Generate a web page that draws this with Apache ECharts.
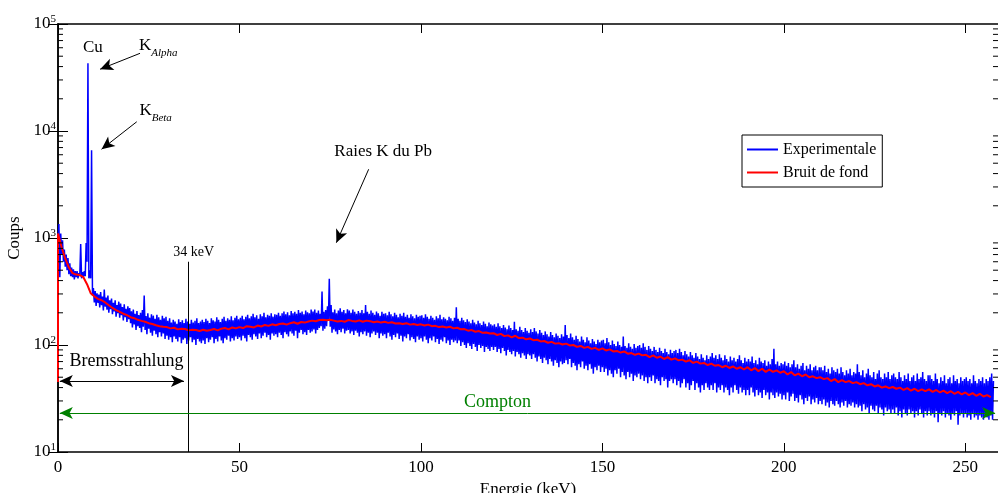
<!DOCTYPE html>
<html><head><meta charset="utf-8">
<script src="https://cdn.jsdelivr.net/npm/echarts@6/dist/echarts.min.js"></script>
<style>html,body{margin:0;padding:0;background:#fff}#c{width:998px;height:493px}</style>
</head><body><div id="c"></div><script>
const FONT = 'Liberation Serif';

// Experimental spectrum: lowest and highest counts read in each 0.5 keV bin (bin i starts at i*0.5 keV)
const expStep = 0.5;
const expLow = [
 1000, 430, 700, 600, 540, 500, 460, 440, 430, 410, 430, 420, 440, 420, 430, 440, 600, 420, 420, 290,
 250, 232, 248, 224, 236, 210, 228, 214, 200, 216, 194, 206, 184, 198, 180, 190, 170, 182, 164, 174,
 160, 146, 156, 138, 150, 144, 132, 148, 138, 126, 142, 130, 122, 136, 126, 118, 132, 120, 128, 114,
 122, 112, 118, 106, 120, 114, 108, 118, 104, 112, 116, 102, 110, 118, 106, 112, 100, 114, 108, 104,
 110, 102, 116, 106, 112, 118, 104, 114, 108, 120, 110, 104, 116, 112, 122, 108, 116, 110, 120, 114,
 118, 110, 122, 116, 108, 124, 118, 112, 126, 120, 114, 128, 116, 122, 130, 118, 124, 112, 128, 122,
 126, 118, 130, 124, 116, 132, 126, 120, 134, 128, 122, 136, 116, 130, 138, 126, 132, 124, 138, 130,
 134, 140, 128, 138, 144, 150, 136, 142, 150, 168, 148, 130, 140, 134, 126, 138, 132, 142, 128, 136,
 138, 128, 134, 124, 136, 130, 120, 132, 126, 134, 122, 130, 118, 128, 134, 124, 130, 116, 128, 122,
 126, 116, 130, 120, 112, 124, 118, 128, 114, 122, 108, 120, 116, 126, 110, 118, 114, 106, 120, 112,
 116, 108, 120, 112, 104, 116, 110, 120, 106, 114, 102, 112, 108, 118, 104, 110, 100, 112, 106, 110,
 104, 110, 98, 106, 100, 94, 104, 98, 92, 102, 96, 88, 100, 94, 98, 86, 96, 92, 88, 96,
 90, 96, 86, 92, 84, 94, 88, 80, 90, 86, 82, 88, 78, 86, 82, 76, 84, 80, 74, 82,
 80, 74, 82, 76, 70, 78, 74, 68, 76, 72, 66, 74, 70, 64, 72, 68, 62, 70, 66, 68,
 72, 66, 74, 62, 68, 64, 58, 66, 62, 70, 60, 64, 58, 66, 60, 54, 62, 58, 64, 56,
 62, 56, 60, 52, 58, 54, 50, 58, 54, 60, 50, 56, 52, 48, 56, 50, 54, 46, 52, 50,
 54, 48, 52, 46, 50, 44, 50, 46, 52, 44, 48, 46, 42, 50, 46, 48, 40, 46, 48, 44,
 48, 42, 46, 40, 44, 48, 40, 44, 38, 42, 46, 38, 44, 40, 36, 42, 38, 44, 40, 38,
 42, 38, 44, 36, 40, 38, 42, 36, 40, 38, 34, 40, 36, 42, 38, 35, 40, 36, 38, 34,
 38, 34, 40, 36, 33, 38, 34, 36, 32, 38, 34, 36, 31, 36, 34, 32, 36, 33, 35, 31,
 34, 31, 36, 30, 33, 35, 30, 32, 29, 34, 31, 28, 32, 30, 33, 28, 31, 29, 32, 28,
 30, 28, 31, 27, 29, 26, 30, 28, 27, 30, 28, 26, 29, 27, 30, 26, 28, 27, 29, 26,
 28, 26, 27, 24, 28, 25, 26, 23, 27, 25, 24, 27, 23, 26, 25, 22, 26, 24, 25, 23,
 25, 23, 26, 22, 24, 21, 25, 23, 22, 25, 23, 24, 21, 24, 22, 25, 23, 21, 24, 22,
 24, 22, 23, 21, 24, 19, 23, 22, 24, 21, 23, 22, 20, 23, 22, 24, 18, 22, 23, 21,
 23, 21, 22, 20, 23, 21, 22, 20, 22, 21, 20, 22, 21, 20, 22, 20
];
const expHigh = [
 1350, 1100, 950, 780, 700, 650, 580, 530, 510, 490, 490, 470, 880, 480, 490, 900, 43000, 500, 6600, 340,
 320, 304, 296, 312, 284, 330, 278, 290, 262, 272, 248, 262, 236, 254, 244, 226, 240, 218, 230, 222,
 206, 214, 196, 208, 190, 200, 212, 290, 186, 198, 180, 194, 188, 176, 192, 182, 172, 188, 178, 184,
 168, 178, 162, 172, 166, 158, 174, 164, 170, 160, 176, 166, 158, 172, 162, 168, 178, 160, 166, 172,
 164, 176, 168, 160, 178, 170, 166, 182, 172, 164, 176, 184, 168, 178, 172, 186, 170, 180, 188, 174,
 180, 188, 174, 184, 192, 178, 186, 196, 182, 190, 176, 194, 186, 200, 182, 192, 188, 198, 184, 194,
 192, 200, 188, 198, 206, 194, 202, 190, 208, 198, 204, 196, 212, 200, 206, 194, 210, 202, 198, 214,
 206, 214, 200, 210, 196, 316, 204, 212, 230, 415, 236, 202, 214, 198, 210, 220, 204, 212, 198, 216,
 210, 200, 214, 204, 196, 208, 200, 212, 198, 237, 204, 196, 210, 200, 192, 206, 198, 188, 204, 196,
 198, 190, 204, 194, 186, 200, 192, 182, 196, 188, 200, 184, 192, 180, 194, 186, 178, 192, 184, 188,
 190, 180, 194, 184, 176, 188, 180, 172, 186, 178, 192, 174, 182, 176, 170, 184, 178, 168, 180, 225,
 176, 168, 180, 170, 164, 174, 166, 160, 172, 162, 156, 168, 160, 154, 166, 158, 150, 162, 156, 152,
 156, 148, 160, 150, 144, 154, 146, 140, 152, 144, 138, 165, 140, 136, 148, 138, 132, 144, 136, 130,
 140, 132, 144, 134, 128, 138, 130, 124, 134, 126, 120, 132, 124, 118, 128, 122, 116, 126, 120, 154,
 124, 116, 128, 118, 112, 122, 114, 108, 120, 112, 106, 118, 110, 104, 114, 108, 102, 112, 106, 110,
 112, 104, 116, 106, 100, 110, 102, 98, 108, 100, 96, 120, 98, 94, 104, 96, 92, 102, 94, 98,
 100, 94, 104, 96, 90, 98, 92, 88, 96, 90, 86, 94, 88, 84, 92, 86, 82, 90, 84, 88,
 90, 84, 92, 86, 80, 88, 82, 78, 86, 80, 76, 84, 78, 74, 82, 76, 72, 80, 74, 78,
 84, 76, 80, 74, 82, 76, 72, 80, 74, 70, 78, 72, 76, 70, 74, 80, 72, 68, 76, 70,
 74, 70, 78, 68, 72, 66, 76, 70, 68, 72, 64, 70, 66, 74, 92, 66, 70, 64, 68, 66,
 70, 64, 68, 62, 66, 72, 62, 66, 60, 64, 68, 58, 64, 60, 66, 58, 62, 64, 58, 62,
 62, 58, 64, 56, 60, 54, 62, 58, 56, 60, 54, 62, 56, 52, 58, 54, 60, 52, 56, 54,
 66, 56, 52, 58, 50, 54, 60, 52, 50, 56, 48, 54, 58, 50, 48, 54, 50, 56, 48, 52,
 54, 50, 48, 56, 50, 46, 52, 48, 54, 46, 50, 52, 46, 54, 48, 50, 56, 48, 46, 52,
 52, 48, 46, 54, 48, 44, 50, 46, 52, 44, 48, 50, 44, 52, 46, 48, 44, 50, 46, 48,
 50, 46, 48, 44, 52, 46, 44, 48, 46, 50, 44, 48, 46, 50, 54, 46
];

// Background ("Bruit de fond"), one value every 1 keV starting at 0 keV
const bgStep = 1;
const bgFloor = 45;
const bgCounts = [
 1100, 820, 640, 530, 470, 455, 450, 430, 370, 305,
 285, 270, 262, 250, 235, 222, 212, 204, 196, 190,
 182, 178, 172, 168, 165, 160, 157, 153, 150, 148,
 147, 143, 145, 140, 142, 141, 137, 139, 138, 135,
 139, 136, 138, 141, 137, 142, 144, 140, 146, 143,
 147, 144, 150, 148, 146, 152, 149, 154, 151, 156,
 153, 157, 159, 155, 160, 163, 158, 164, 162, 166,
 169, 167, 171, 172, 170, 172, 169, 166, 168, 165,
 171, 168, 166, 170, 165, 169, 167, 163, 166, 162,
 165, 161, 163, 159, 160, 157, 160, 155, 157, 154,
 156, 152, 155, 150, 151, 147, 149, 146, 148, 143,
 145, 140, 141, 136, 138, 133, 135, 130, 131, 128,
 129, 124, 127, 121, 123, 118, 122, 116, 117, 113,
 115, 111, 112, 108, 109, 105, 107, 103, 104, 101,
 103, 99, 100, 96, 98, 94, 96, 92, 94, 90,
 93, 89, 91, 87, 88, 85, 87, 83, 84, 81,
 83, 80, 81, 77, 80, 76, 78, 74, 77, 73,
 75, 72, 73, 70, 72, 68, 70, 67, 68, 65,
 67, 64, 65, 62, 64, 61, 63, 60, 62, 59,
 62, 58, 61, 57, 60, 56, 59, 56, 58, 55,
 57, 53, 56, 52, 54, 51, 53, 50, 51, 49,
 50, 48, 49, 46, 48, 45, 47, 45, 46, 44,
 45, 43, 44, 42, 43, 41, 42, 40, 41, 39.5,
 40.5, 39, 40, 38, 39.5, 37.5, 39, 37, 38.5, 37,
 38.5, 36.5, 38, 36, 37.5, 35.5, 37, 35, 36.5, 34.5,
 36, 34, 35.5, 33.5, 35, 33, 34, 32.5
];

// Axes
const xMin = 0, xMax = 259, xInterval = 50;
const yMin = 10, yMax = 100000;
const yMinorTicks = [20,30,40,50,60,70,80,90, 200,300,400,500,600,700,800,900,
  2000,3000,4000,5000,6000,7000,8000,9000, 20000,30000,40000,50000,60000,70000,80000,90000];

// Annotations (data coordinates: keV, counts)
const lineAt34 = 36;
const textNotes = [
  {at: [9.6, 59700], text: '{t|Cu}'},
  {at: [27.6, 59700], text: '{k|K}{sa|Alpha}'},
  {at: [26.9, 14700], text: '{k|K}{sb|Beta}'},
  {at: [89.6, 6410], text: '{t|Raies K du Pb}'},
  {at: [37.4, 740], text: '{s|34 keV}'},
  {at: [18.9, 70.8], text: '{t18|Bremsstrahlung}'},
  {at: [121.1, 29.3], text: '{g|Compton}'}
];
const pointerArrows = [
  {from: [22.6, 53200], to: [11.6, 37800]},
  {from: [21.7, 12200], to: [12.0, 6750]},
  {from: [85.6, 4390], to: [76.7, 904]}
];
const bremsArrow = {from: [0.5, 46], to: [34.7, 46]};
const comptonArrow = {from: [0.5, 23.2], to: [258.2, 23.2]};

// Each bin is drawn as its low point followed by its high point
const expData = [];
expLow.forEach((lo, i) => {
  expData.push([i * expStep, lo]);
  expData.push([i * expStep + expStep / 2, expHigh[i]]);
});
const bgData = [[0, bgFloor]].concat(bgCounts.map((c, i) => [i * bgStep, c]));

const richText = {
  t: {fontFamily: FONT, fontSize: 17, color: '#000'},
  t18: {fontFamily: FONT, fontSize: 18, color: '#000'},
  s: {fontFamily: FONT, fontSize: 14, color: '#000'},
  g: {fontFamily: FONT, fontSize: 18, color: '#008000'},
  k: {fontFamily: FONT, fontSize: 17, lineHeight: 22, verticalAlign: 'top', color: '#000'},
  sa: {fontFamily: FONT, fontSize: 11, lineHeight: 11, verticalAlign: 'bottom', fontStyle: 'italic', color: '#000'},
  sb: {fontFamily: FONT, fontSize: 11, lineHeight: 11, verticalAlign: 'bottom', fontStyle: 'italic', color: '#000'}
};

const arrowLines = pointerArrows.map(a => [
  {coord: a.from, symbol: 'none'},
  {coord: a.to, symbol: 'arrow', symbolSize: [9, 13]}
]);
arrowLines.push([
  {coord: bremsArrow.from, symbol: 'arrow', symbolSize: [9, 13]},
  {coord: bremsArrow.to, symbol: 'arrow', symbolSize: [9, 13]}
]);
arrowLines.push([
  {coord: [lineAt34, yMin], symbol: 'none'},
  {coord: [lineAt34, 600], symbol: 'none'}
]);
const comptonLine = [[
  {coord: comptonArrow.from, symbol: 'arrow', symbolSize: [9, 13]},
  {coord: comptonArrow.to, symbol: 'arrow', symbolSize: [9, 13]}
]];

const axisLineStyle = {color: '#000', width: 1.5};
const chart = echarts.init(document.getElementById('c'), null, {renderer: 'canvas'});
chart.setOption({
  animation: false,
  backgroundColor: '#fff',
  grid: {left: 58, top: 24, right: 0, bottom: 41, containLabel: false, outerBoundsMode: 'none'},
  legend: {
    data: ['Experimentale', 'Bruit de fond'],
    orient: 'vertical', left: 742, top: 135,
    borderColor: '#000', borderWidth: 1, borderRadius: 0,
    backgroundColor: '#fff', icon: 'rect',
    padding: [5, 6, 5, 5], itemWidth: 31, itemHeight: 2, itemGap: 4,
    textStyle: {fontFamily: FONT, fontSize: 16, lineHeight: 19, color: '#000'},
    selectedMode: false
  },
  xAxis: [{
    type: 'value', min: xMin, max: xMax, interval: xInterval, position: 'bottom',
    axisLine: {show: true, lineStyle: axisLineStyle},
    axisTick: {show: true, inside: true, length: 9, lineStyle: {color: '#000', width: 1}},
    axisLabel: {show: true, margin: 7, showMaxLabel: false, fontFamily: FONT, fontSize: 17, color: '#000',
      formatter: v => (v % xInterval === 0 ? String(v) : '')},
    splitLine: {show: false},
    name: 'Energie (keV)', nameLocation: 'middle', nameGap: 27,
    nameTextStyle: {fontFamily: FONT, fontSize: 17, color: '#000'}
  }, {
    type: 'value', min: xMin, max: xMax, interval: xInterval, position: 'top',
    axisLine: {show: true, lineStyle: axisLineStyle},
    axisTick: {show: true, inside: true, length: 9, lineStyle: {color: '#000', width: 1}},
    axisLabel: {show: false}, splitLine: {show: false}
  }],
  yAxis: [{
    type: 'log', logBase: 10, min: yMin, max: yMax, splitNumber: 4, position: 'left',
    axisLine: {show: true, lineStyle: axisLineStyle},
    axisTick: {show: true, inside: true, length: 10, lineStyle: {color: '#000', width: 1}},
    axisLabel: {show: true, margin: 2, color: '#000',
      formatter: v => '{b|10}{e|' + Math.round(Math.log10(v)) + '}',
      rich: {
        b: {fontFamily: FONT, fontSize: 17, lineHeight: 20, color: '#000'},
        e: {fontFamily: FONT, fontSize: 11, lineHeight: 11, verticalAlign: 'top', color: '#000'}
      }},
    splitLine: {show: false},
    name: 'Coups', nameLocation: 'middle', nameGap: 32,
    nameTextStyle: {fontFamily: FONT, fontSize: 17, color: '#000'}
  }, {
    type: 'log', logBase: 10, min: yMin, max: yMax, splitNumber: 4, position: 'right',
    axisLine: {show: true, lineStyle: axisLineStyle},
    axisTick: {show: true, inside: true, length: 10, lineStyle: {color: '#000', width: 1}},
    axisLabel: {show: false}, splitLine: {show: false}
  }],
  series: [
    {
      name: 'Experimentale', type: 'line', data: expData, symbol: 'none', showSymbol: false,
      lineStyle: {color: '#0000ff', width: 1.5}, itemStyle: {color: '#0000ff'},
      z: 2, silent: true
    },
    {
      name: 'Bruit de fond', type: 'line', data: bgData, symbol: 'none', showSymbol: false,
      lineStyle: {color: '#ff0000', width: 2}, itemStyle: {color: '#ff0000'},
      z: 3, silent: true,
      markLine: {
        silent: true, animation: false, symbolSize: [9, 13],
        label: {show: false},
        lineStyle: {color: '#000', width: 1, type: 'solid'},
        emphasis: {disabled: true},
        data: arrowLines
      },
      markPoint: {
        silent: true, animation: false,
        symbol: 'circle', symbolSize: 0,
        itemStyle: {color: 'rgba(0,0,0,0)'},
        label: {show: true, position: 'inside', rich: richText},
        data: textNotes.map(n => ({coord: n.at, value: 0,
          label: {show: true, position: 'inside', formatter: n.text, rich: richText}}))
      }
    },
    {
      name: 'compton', type: 'line', data: [], symbol: 'none', z: 4, silent: true,
      markLine: {
        silent: true, animation: false, symbolSize: [9, 13],
        label: {show: false},
        lineStyle: {color: '#008000', width: 1, type: 'solid'},
        itemStyle: {color: '#008000'},
        data: comptonLine
      }
    },
    {
      name: 'minorTicks', type: 'custom', coordinateSystem: 'cartesian2d', silent: true, z: 5,
      clip: false,
      data: yMinorTicks.map(v => [xMin, v]),
      renderItem: function (params, api) {
        const v = api.value(1);
        const l = api.coord([xMin, v]);
        const r = api.coord([xMax, v]);
        return {type: 'group', children: [
          {type: 'line', shape: {x1: l[0], y1: l[1], x2: l[0] + 5, y2: l[1]}, style: {stroke: '#000', lineWidth: 1}},
          {type: 'line', shape: {x1: r[0], y1: r[1], x2: r[0] - 5, y2: r[1]}, style: {stroke: '#000', lineWidth: 1}}
        ]};
      }
    }
  ]
});
</script></body></html>
